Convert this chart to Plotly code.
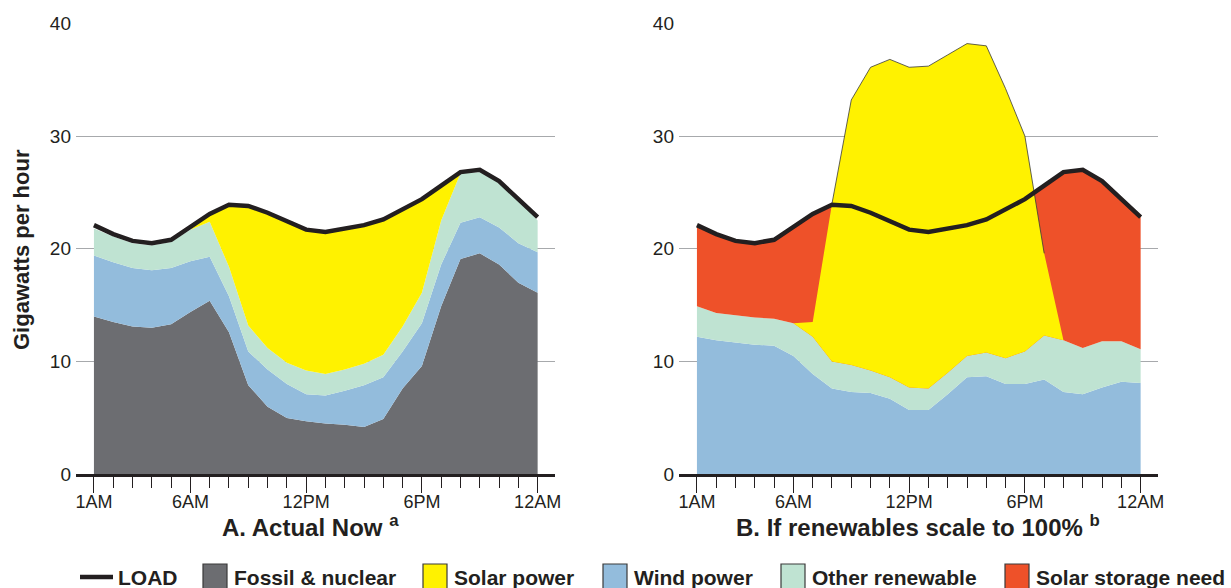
import numpy as np
import plotly.graph_objects as go

W, H = 1231, 588

hours = list(range(1, 25))
tick_hours = [1, 6, 12, 18, 24]
tick_labels = ["1AM", "6AM", "12PM", "6PM", "12AM"]

# hourly load, same in both panels (GW)
load = [22.1, 21.3, 20.7, 20.5, 20.8, 21.9, 23.1, 23.9, 23.8, 23.2, 22.4, 21.7,
        21.5, 21.8, 22.1, 22.6, 23.5, 24.4, 25.6, 26.8, 27.0, 26.0, 24.4, 22.8]

# A. Actual now - contribution of each source
now_fossil = [14.0, 13.5, 13.1, 13.0, 13.3, 14.4, 15.4, 12.6, 7.9, 6.0, 5.0, 4.7,
              4.5, 4.4, 4.2, 4.9, 7.6, 9.6, 14.9, 19.1, 19.6, 18.6, 17.0, 16.1]
now_wind = [5.4, 5.3, 5.2, 5.1, 5.0, 4.5, 3.9, 3.2, 3.0, 3.3, 3.0, 2.4,
            2.5, 3.0, 3.7, 3.7, 3.3, 3.8, 3.7, 3.2, 3.2, 3.3, 3.5, 3.6]
now_other = [2.4, 2.3, 2.2, 2.2, 2.3, 2.8, 3.1, 2.6, 2.3, 1.9, 1.9, 2.1,
             1.9, 1.9, 1.9, 2.0, 2.2, 2.7, 3.9, 4.4, 4.0, 4.1, 3.9, 2.8]
now_solar = [0, 0, 0, 0, 0, 0, 0.7, 5.5, 10.6, 12.0, 12.5, 12.5,
             12.6, 12.5, 12.3, 12.0, 10.4, 8.3, 3.1, 0, 0, 0, 0, 0]

# B. If renewables scale to 100%
full_wind = [12.2, 11.9, 11.7, 11.5, 11.4, 10.5, 8.9, 7.6, 7.3, 7.2, 6.7, 5.7,
             5.7, 7.1, 8.6, 8.7, 8.0, 8.0, 8.4, 7.3, 7.1, 7.7, 8.2, 8.1]
full_other = [2.7, 2.4, 2.4, 2.4, 2.4, 2.9, 3.3, 2.4, 2.4, 2.0, 1.9, 2.0,
              1.9, 1.9, 1.9, 2.1, 2.3, 2.9, 3.9, 4.6, 4.1, 4.1, 3.6, 3.0]
full_solar = [0, 0, 0, 0, 0, 0, 1.3, 14.0, 23.5, 26.9, 28.2, 28.4,
              28.6, 28.2, 27.7, 27.2, 23.9, 19.1, 7.3, 0, 0, 0, 0, 0]

C_FOSSIL = "#6c6d71"
C_SOLAR = "#fff200"
C_WIND = "#93bcdc"
C_OTHER = "#bfe3d2"
C_STORAGE = "#ee5129"
C_INK = "#231f20"
FONT = "Liberation Sans, Arial, Helvetica, sans-serif"


def px(x):
    return x / W


def py(y):
    return 1 - y / H


def area(x, y, color, fill, xa, ya):
    return go.Scatter(x=x, y=y, mode="lines", fill=fill, fillcolor=color,
                      line=dict(width=0, color=color),
                      hoverinfo="skip", showlegend=False, xaxis=xa, yaxis=ya)


fig = go.Figure()

# --- panel A ---
a1 = np.array(now_fossil)
a2 = a1 + np.array(now_wind)
a3 = a2 + np.array(now_other)
a4 = a3 + np.array(now_solar)
fig.add_trace(area(hours, a1, C_FOSSIL, "tozeroy", "x", "y"))
fig.add_trace(area(hours, a2, C_WIND, "tonexty", "x", "y"))
fig.add_trace(area(hours, a3, C_OTHER, "tonexty", "x", "y"))
fig.add_trace(area(hours, a4, C_SOLAR, "tonexty", "x", "y"))
fig.add_trace(go.Scatter(x=hours, y=load, mode="lines", line=dict(color=C_INK, width=4.5),
                         showlegend=False, xaxis="x", yaxis="y"))

# --- panel B ---
b1 = np.array(full_wind)
b2 = b1 + np.array(full_other)
b3 = b2 + np.array(full_solar)
fig.add_trace(area(hours, b1, C_WIND, "tozeroy", "x2", "y2"))
fig.add_trace(area(hours, b2, C_OTHER, "tonexty", "x2", "y2"))
# storage need = gap between renewable supply and load (solar drawn over it)
fig.add_trace(area(hours, load, C_STORAGE, "tonexty", "x2", "y2"))
fig.add_trace(go.Scatter(x=hours, y=b2, mode="lines", line=dict(width=0), hoverinfo="skip",
                         showlegend=False, xaxis="x2", yaxis="y2"))
fig.add_trace(area(hours, b3, C_SOLAR, "tonexty", "x2", "y2"))
# thin outline where solar rises above the load
above = b3 >= np.array(load)
edge = above | np.roll(above, 1)
edge[0] = above[0]
outline = [v if e else None for v, e in zip(b3, edge)]
fig.add_trace(go.Scatter(x=hours, y=outline, mode="lines", line=dict(color="#3a3a3a", width=0.8),
                         hoverinfo="skip", showlegend=False, xaxis="x2", yaxis="y2"))
fig.add_trace(go.Scatter(x=hours, y=load, mode="lines", line=dict(color=C_INK, width=4.5),
                         showlegend=False, xaxis="x2", yaxis="y2"))

xaxis_style = dict(
    range=[0.07, 24.9], tickmode="array", tickvals=tick_hours, ticktext=tick_labels,
    ticks="outside", ticklen=16, tickwidth=1.3, tickcolor=C_INK,
    minor=dict(tick0=1, dtick=1, ticks="outside", ticklen=11, tickwidth=1.3,
               tickcolor=C_INK, showgrid=False),
    showline=True, linecolor=C_INK, linewidth=2.5, showgrid=False, zeroline=False,
    tickfont=dict(size=18, color=C_INK, family=FONT), ticklabelstandoff=-7,
    automargin=False, fixedrange=True,
)
yaxis_style = dict(
    range=[0, 40], tickvals=[0, 10, 20, 30, 40], showgrid=True,
    gridcolor="#a7a9ac", gridwidth=1.2, zeroline=False, showline=False, ticks="",
    tickfont=dict(size=19, color=C_INK, family=FONT), ticklabelstandoff=4,
    domain=[py(474.3), py(23.3)], automargin=False, fixedrange=True,
)

fig.update_layout(
    width=W, height=H,
    margin=dict(l=0, r=0, t=0, b=0, autoexpand=False),
    paper_bgcolor="white", plot_bgcolor="white",
    font=dict(family=FONT, color=C_INK),
    xaxis=dict(xaxis_style, domain=[px(76), px(555)], anchor="y"),
    yaxis=dict(yaxis_style, anchor="x"),
    xaxis2=dict(xaxis_style, domain=[px(679), px(1158)], anchor="y2"),
    yaxis2=dict(yaxis_style, anchor="x2"),
    showlegend=False,
)

annotations = [
    dict(text="Gigawatts per hour", x=px(22), y=py(250), textangle=-90,
         font=dict(size=22, weight="bold")),
    dict(text="A. Actual Now <sup>a</sup>", x=px(310), y=py(526),
         font=dict(size=24, weight="bold")),
    dict(text="B. If renewables scale to 100% <sup>b</sup>", x=px(918), y=py(526),
         font=dict(size=24, weight="bold")),
]

# legend drawn by hand to match the boxed swatches
legend_items = [
    ("LOAD", None, 116),
    ("Fossil & nuclear", C_FOSSIL, 203),
    ("Solar power", C_SOLAR, 423),
    ("Wind power", C_WIND, 603),
    ("Other renewable", C_OTHER, 781),
    ("Solar storage need", C_STORAGE, 1005),
]
shapes = []
for label, color, x0 in legend_items:
    if color is None:
        shapes.append(dict(type="line", xref="paper", yref="paper", x0=px(80), x1=px(113),
                           y0=py(577), y1=py(577), line=dict(color=C_INK, width=4.5)))
        tx = x0
    else:
        shapes.append(dict(type="rect", xref="paper", yref="paper", x0=px(x0), x1=px(x0 + 24),
                           y0=py(564), y1=py(591), fillcolor=color,
                           line=dict(color="#3a3a3a", width=1.2)))
        tx = x0 + 29
    annotations.append(dict(text=label, x=px(tx), y=py(577), xanchor="left",
                            font=dict(size=21, weight="bold")))

for a in annotations:
    a.update(xref="paper", yref="paper", showarrow=False)
    a.setdefault("xanchor", "center")
    a["yanchor"] = "middle"
    a["font"].update(family=FONT, color=C_INK)

fig.update_layout(annotations=annotations, shapes=shapes)

# drop the default 8px body margin so the figure fills the window exactly
fig.write_html("out.html", config={"displayModeBar": False},
               post_script="document.body.style.margin='0px';")
